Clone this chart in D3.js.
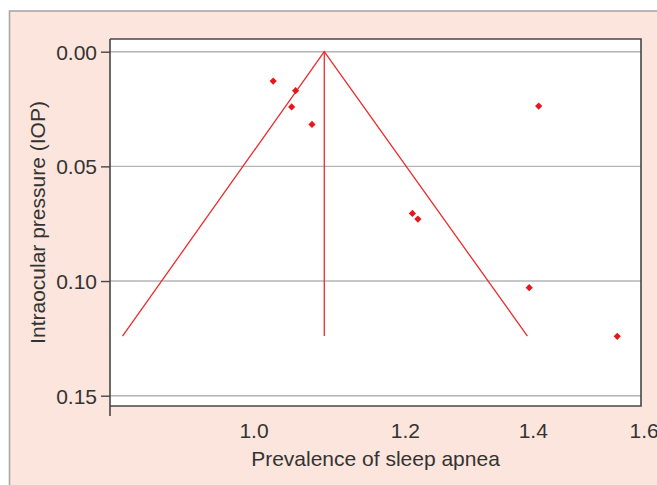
<!DOCTYPE html>
<html>
<head>
<meta charset="utf-8">
<script src="https://cdn.jsdelivr.net/npm/d3@7"></script>
<style>
  html, body { margin: 0; padding: 0; background: #ffffff; }
  svg { display: block; font-family: "Liberation Sans", Arial, sans-serif; }
</style>
</head>
<body>
<script>
"use strict";

// studies: prevalence ratio of sleep apnea (x, log scale) vs standard error (y, reversed)
const studyRatio = [1.024, 1.052, 1.047, 1.073, 1.410, 1.211, 1.219, 1.394, 1.550];
const studySE = [0.0128, 0.0170, 0.0241, 0.0317, 0.0237, 0.0705, 0.0730, 0.1029, 0.1241];

// funnel: pooled estimate and pseudo 95% limits at the largest SE
const funnelRatio = [0.854, 1.089, 1.391];
const funnelSE = [0.124, 0.0, 0.124];

const xTicks = [1.0, 1.2, 1.4, 1.6];
const yTicks = [0.00, 0.05, 0.10, 0.15];

const width = 657, height = 485;
const plot = { left: 110, top: 39, right: 641, bottom: 406 };

const svg = d3.select("body")
  .append("svg")
    .attr("width", width)
    .attr("height", height);

// pink panel behind everything
svg.append("rect")
  .attr("x", 9.5)
  .attr("y", 11)
  .attr("width", width + 10)
  .attr("height", height + 10)
  .attr("fill", "#fce5dc")
  .attr("stroke", "#a8a8a8")
  .attr("stroke-width", 1.6);

svg.append("rect")
  .attr("x", plot.left)
  .attr("y", plot.top)
  .attr("width", plot.right - plot.left)
  .attr("height", plot.bottom - plot.top)
  .attr("fill", "#ffffff");

const x = d3.scaleLog()
  .domain([0.8412, 1.595])
  .range([plot.left, plot.right]);

const y = d3.scaleLinear()
  .domain([0, 0.15])
  .range([51.7, 395.7]);

// horizontal grid
svg.append("g")
  .selectAll("line")
  .data(yTicks)
  .enter()
  .append("line")
    .attr("x1", plot.left)
    .attr("x2", plot.right)
    .attr("y1", (d) => y(d))
    .attr("y2", (d) => y(d))
    .attr("stroke", "#b4b4b4")
    .attr("stroke-width", 1.4);

// plot frame (top, right, bottom)
svg.append("path")
  .attr("d", `M${plot.left},${plot.top}H${plot.right}V${plot.bottom}H${plot.left}`)
  .attr("fill", "none")
  .attr("stroke", "#474747")
  .attr("stroke-width", 1.6);

// y axis
const yAxis = svg.append("g")
  .attr("transform", `translate(${plot.left},0)`)
  .call(d3.axisLeft(y)
    .tickValues(yTicks)
    .tickFormat(d3.format(".2f"))
    .tickSize(9)
    .tickPadding(4));
yAxis.select(".domain").remove();
yAxis.append("line")
  .attr("x1", 0).attr("x2", 0)
  .attr("y1", plot.top).attr("y2", 416)
  .attr("stroke", "#474747")
  .attr("stroke-width", 1.6);
yAxis.selectAll(".tick line").attr("stroke", "#474747").attr("stroke-width", 1.4);
yAxis.selectAll(".tick text")
  .attr("fill", "#333333")
  .style("font-size", "21px")
  .attr("dy", "0.36em");

// x axis (labels only)
const xAxis = svg.append("g")
  .attr("transform", `translate(0,${plot.bottom})`)
  .call(d3.axisBottom(x)
    .tickValues(xTicks)
    .tickFormat(d3.format(".1f"))
    .tickSize(0)
    .tickPadding(17));
xAxis.select(".domain").remove();
xAxis.selectAll(".tick text")
  .attr("fill", "#333333")
  .style("font-size", "21px");

// axis titles
svg.append("text")
  .attr("x", (plot.left + plot.right) / 2)
  .attr("y", 466)
  .attr("text-anchor", "middle")
  .attr("fill", "#333333")
  .style("font-size", "21px")
  .text("Prevalence of sleep apnea");

svg.append("text")
  .attr("transform", `translate(45,${(plot.top + plot.bottom) / 2}) rotate(-90)`)
  .attr("text-anchor", "middle")
  .attr("fill", "#333333")
  .style("font-size", "21px")
  .text("Intraocular pressure (IOP)");

// funnel lines
const funnel = funnelRatio.map((r, i) => ({ r: r, se: funnelSE[i] }));
svg.append("path")
  .datum(funnel)
  .attr("fill", "none")
  .attr("stroke", "#ee2b2b")
  .attr("stroke-width", 1.3)
  .attr("d", d3.line().x((d) => x(d.r)).y((d) => y(d.se)));

svg.append("line")
  .attr("x1", x(funnelRatio[1]))
  .attr("x2", x(funnelRatio[1]))
  .attr("y1", y(0))
  .attr("y2", y(funnelSE[0]))
  .attr("stroke", "#ee2b2b")
  .attr("stroke-width", 1.3);

// study points
const studies = studyRatio.map((r, i) => ({ r: r, se: studySE[i] }));
svg.append("g")
  .selectAll("path")
  .data(studies)
  .enter()
  .append("path")
    .attr("d", d3.symbol().type(d3.symbolSquare).size(26))
    .attr("transform", (d) => `translate(${x(d.r)},${y(d.se)}) rotate(45)`)
    .attr("fill", "#e8161c");
</script>
</body>
</html>
